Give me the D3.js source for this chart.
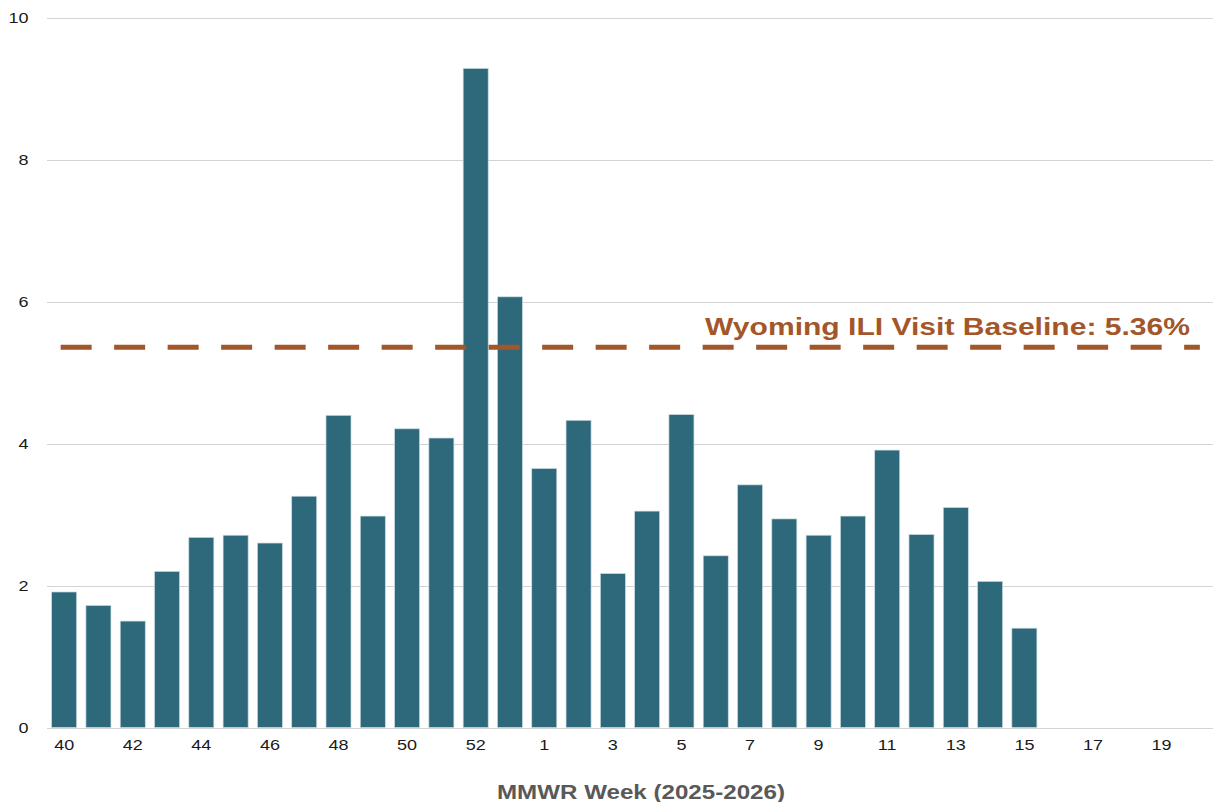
<!DOCTYPE html>
<html>
<head>
<meta charset="utf-8">
<script src="https://cdn.jsdelivr.net/npm/d3@7"></script>
<style>
  html, body { margin: 0; padding: 0; background: #fff; }
  svg { display: block; font-family: "Liberation Sans", Arial, sans-serif; }
</style>
</head>
<body>
<svg id="chart" width="1214" height="802"></svg>
<script>
const weeks = ["40","41","42","43","44","45","46","47","48","49","50","51","52","53",
               "1","2","3","4","5","6","7","8","9","10","11","12","13","14","15","16","17","18","19","20"];
const iliPercent = [1.91,1.72,1.50,2.20,2.68,2.71,2.60,3.26,4.40,2.98,4.21,4.08,9.29,6.07,
                    3.65,4.33,2.17,3.05,4.41,2.42,3.42,2.94,2.71,2.98,3.91,2.72,3.10,2.06,1.40,null,null,null,null,null];
const yTicks = [0,2,4,6,8,10];
const baselineValue = 5.36;
const baselineLabel = "Wyoming ILI Visit Baseline: 5.36%";
const xTitle = "MMWR Week (2025-2026)";

(function () {
const svg = d3.select("#chart");
const mLeft = 47, mRight = 1213, mTop = 18, mBottom = 727.5;
const stretch = 1.2;
function widen(sel) {
  sel.each(function () {
    const w = this.getComputedTextLength();
    d3.select(this).attr("textLength", w * stretch).attr("lengthAdjust", "spacingAndGlyphs");
  });
}

const x = d3.scaleBand().domain(weeks).range([mLeft, mRight]).paddingInner(0.27).paddingOuter(0.135);
const y = d3.scaleLinear().domain([0, 10]).range([mBottom, mTop]);

// gridlines
svg.append("g").selectAll("line").data(yTicks).join("line")
  .attr("x1", mLeft).attr("x2", mRight)
  .attr("y1", d => Math.round(y(d)) + 0.5).attr("y2", d => Math.round(y(d)) + 0.5)
  .attr("stroke", "#d3d3d3").attr("stroke-width", 1.2);

// y axis labels
const yAxis = d3.axisLeft(y).tickValues(yTicks).tickSize(0).tickPadding(0);
const gy = svg.append("g").attr("transform", `translate(28.5,0)`).call(yAxis);
gy.select(".domain").remove();
gy.selectAll("text").attr("font-size", 15).attr("fill", "#1a1a1a")
  .attr("font-family", "Liberation Sans, Arial, sans-serif").call(widen);

// bars
const data = weeks.map((w, i) => ({ w, v: iliPercent[i] })).filter(d => d.v != null);
svg.append("g").selectAll("rect").data(data).join("rect")
  .attr("x", d => x(d.w))
  .attr("width", x.bandwidth())
  .attr("y", d => y(d.v))
  .attr("height", d => y(0) - y(d.v))
  .attr("fill", "#2e687b")
  .attr("stroke", "#c9dbe1").attr("stroke-width", 0.7);

// x axis labels
const xAxis = d3.axisBottom(x)
  .tickValues(weeks.filter((w, i) => i % 2 === 0))
  .tickSize(0).tickPadding(0);
const gx = svg.append("g").attr("transform", `translate(0,${mBottom + 12})`).call(xAxis);
gx.select(".domain").remove();
gx.selectAll("text").attr("font-size", 15).attr("fill", "#1a1a1a")
  .attr("font-family", "Liberation Sans, Arial, sans-serif").call(widen);

// baseline dashed line
const xStart = x(weeks[0]) + x.bandwidth() / 2 - 3.5;
const xEnd = x(weeks[weeks.length - 1]) + x.bandwidth() / 2 + 4;
svg.append("line")
  .attr("x1", xStart).attr("x2", xEnd)
  .attr("y1", y(baselineValue)).attr("y2", y(baselineValue))
  .attr("stroke", "#a3562a").attr("stroke-width", 5)
  .attr("stroke-dasharray", "31,22.5");

svg.append("text")
  .attr("x", 1190).attr("y", 335)
  .attr("text-anchor", "end")
  .attr("font-size", 24).attr("font-weight", "bold")
  .attr("fill", "#a3562a")
  .text(baselineLabel)
  .attr("textLength", 485).attr("lengthAdjust", "spacingAndGlyphs");

// x title
svg.append("text")
  .attr("x", 641).attr("y", 799)
  .attr("text-anchor", "middle")
  .attr("font-size", 20).attr("font-weight", "bold")
  .attr("fill", "#595959")
  .text(xTitle)
  .attr("textLength", 288).attr("lengthAdjust", "spacingAndGlyphs");
})();
</script>
</body>
</html>
